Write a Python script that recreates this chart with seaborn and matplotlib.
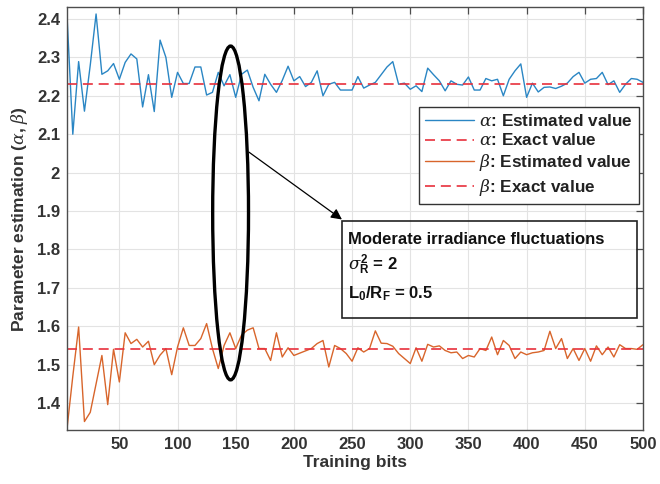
import matplotlib
matplotlib.use("Agg")
import matplotlib.pyplot as plt
import numpy as np
import pandas as pd
import seaborn as sns
from matplotlib.patches import Ellipse, Rectangle
from matplotlib.ticker import FuncFormatter

# Training-bit index of every estimate
training_bits = list(range(5, 505, 5))

# Estimated alpha after each block of training bits
alpha_estimated = [
    2.410, 2.100, 2.289, 2.160, 2.280, 2.413, 2.256, 2.265, 2.284, 2.243,
    2.287, 2.309, 2.296, 2.171, 2.255, 2.159, 2.345, 2.300, 2.196, 2.261,
    2.232, 2.232, 2.275, 2.275, 2.202, 2.209, 2.261, 2.226, 2.255, 2.196,
    2.256, 2.267, 2.222, 2.187, 2.256, 2.230, 2.209, 2.240, 2.277, 2.239,
    2.250, 2.224, 2.235, 2.265, 2.200, 2.230, 2.235, 2.215, 2.215, 2.215,
    2.250, 2.220, 2.228, 2.235, 2.255, 2.275, 2.289, 2.230, 2.233, 2.217,
    2.226, 2.211, 2.272, 2.255, 2.239, 2.213, 2.239, 2.230, 2.228, 2.249,
    2.215, 2.215, 2.245, 2.239, 2.243, 2.200, 2.243, 2.265, 2.283, 2.196,
    2.233, 2.210, 2.222, 2.223, 2.219, 2.225, 2.233, 2.250, 2.261, 2.233,
    2.243, 2.245, 2.261, 2.229, 2.239, 2.209, 2.230, 2.245, 2.243, 2.235,
]

# Estimated beta after each block of training bits
beta_estimated = [
    1.333, 1.470, 1.598, 1.352, 1.376, 1.450, 1.524, 1.396, 1.540, 1.455,
    1.583, 1.555, 1.566, 1.546, 1.561, 1.500, 1.525, 1.542, 1.474, 1.546,
    1.596, 1.550, 1.550, 1.568, 1.607, 1.542, 1.490, 1.550, 1.583, 1.542,
    1.577, 1.590, 1.596, 1.542, 1.542, 1.511, 1.583, 1.520, 1.544, 1.524,
    1.530, 1.536, 1.542, 1.555, 1.563, 1.494, 1.550, 1.542, 1.529, 1.509,
    1.544, 1.533, 1.542, 1.588, 1.556, 1.555, 1.548, 1.529, 1.516, 1.503,
    1.544, 1.509, 1.553, 1.546, 1.549, 1.537, 1.531, 1.533, 1.516, 1.524,
    1.520, 1.542, 1.537, 1.572, 1.526, 1.563, 1.550, 1.516, 1.533, 1.526,
    1.531, 1.533, 1.537, 1.587, 1.542, 1.568, 1.516, 1.542, 1.511, 1.542,
    1.509, 1.549, 1.526, 1.546, 1.520, 1.552, 1.542, 1.542, 1.540, 1.552,
]

alpha_exact = 2.23
beta_exact = 1.54

x_ticks = [50, 100, 150, 200, 250, 300, 350, 400, 450, 500]
y_ticks = [1.4, 1.5, 1.6, 1.7, 1.8, 1.9, 2.0, 2.1, 2.2, 2.3, 2.4]

legend_labels = [
    r"$\alpha$: Estimated value",
    r"$\alpha$: Exact value",
    r"$\beta$: Estimated value",
    r"$\beta$: Exact value",
]
note_lines = [
    "Moderate irradiance fluctuations",
    r"$\sigma^{\mathbf{2}}_{\mathbf{R}}$ = 2",
    r"L$_{\mathbf{0}}$/R$_{\mathbf{F}}$ = 0.5",
]

sns.set_theme(style="whitegrid")
plt.rcParams.update({
    "font.family": ["Liberation Sans", "DejaVu Sans"],
    "mathtext.fontset": "custom",
    "mathtext.rm": "Liberation Sans",
    "mathtext.bf": "Liberation Sans:bold",
    "mathtext.it": "DejaVu Serif:italic",
    "mathtext.fallback": "cm",
    "axes.edgecolor": "#4d4d4d",
    "axes.linewidth": 1.0,
    "grid.color": "#e3e3e3",
    "grid.linewidth": 0.8,
})

df = pd.DataFrame({
    "bits": training_bits,
    "alpha_est": alpha_estimated,
    "alpha_ex": [alpha_exact] * len(training_bits),
    "beta_est": beta_estimated,
    "beta_ex": [beta_exact] * len(training_bits),
})

blue = "#2a86c4"
orange = "#d8652b"
red = "#e8303c"
dash = (0, (6, 3.5))

fig = plt.figure(figsize=(6.6, 4.84), dpi=100)
ax = fig.add_axes([0.1015, 0.1116, 0.8727, 0.873])

sns.lineplot(data=df, x="bits", y="alpha_est", ax=ax, color=blue, lw=1.0,
             label=legend_labels[0])
sns.lineplot(data=df, x="bits", y="alpha_ex", ax=ax, color=red, lw=1.2,
             linestyle=dash, label=legend_labels[1])
sns.lineplot(data=df, x="bits", y="beta_est", ax=ax, color=orange, lw=1.0,
             label=legend_labels[2])
sns.lineplot(data=df, x="bits", y="beta_ex", ax=ax, color=red, lw=1.2,
             linestyle=dash, label=legend_labels[3])

ax.set_xlim(5, 500)
ax.set_ylim(1.33, 2.43)
ax.set_xticks(x_ticks)
ax.set_yticks(y_ticks)
ax.yaxis.set_major_formatter(FuncFormatter(lambda v, p: f"{v:g}"))
ax.tick_params(axis="both", which="major", direction="in", length=5,
               width=0.9, color="#4d4d4d", labelsize=12, labelcolor="#333333",
               top=True, right=True, pad=5)
for lab in ax.get_xticklabels() + ax.get_yticklabels():
    lab.set_fontweight("bold")
for s in ax.spines.values():
    s.set_visible(True)
    s.set_color("#4d4d4d")

ax.set_xlabel("Training bits", fontsize=12.5, fontweight="bold",
              color="#333333", labelpad=2)
ax.set_ylabel(r"Parameter estimation ($\alpha$, $\beta$)", fontsize=12.5,
              fontweight="bold", color="#333333", labelpad=5)

leg = ax.legend(loc="upper right", bbox_to_anchor=(0.993, 0.765),
                frameon=True, fancybox=False, framealpha=1,
                edgecolor="#333333", fontsize=12.3, handlelength=2.9,
                labelspacing=0.22, borderpad=0.35, handletextpad=0.3,
                borderaxespad=0)
leg.get_frame().set_linewidth(1.0)
for t in leg.get_texts():
    t.set_fontweight("bold")
    t.set_color("#222222")
leg.set_zorder(6)

# Highlight around the transient region and its call-out
ax.add_patch(Ellipse((145.6, 1.895), width=30.8, height=0.869,
                     fill=False, edgecolor="black", lw=2.4, zorder=5))
ax.annotate("", xy=(241.3, 1.878), xytext=(161.3, 2.0535),
            arrowprops=dict(arrowstyle="-|>", color="black", lw=0.9,
                            mutation_scale=16, shrinkA=0, shrinkB=0),
            zorder=5)
ax.add_patch(Rectangle((241.3, 1.621), 495 - 241.3, 1.873 - 1.621,
                       fill=False, edgecolor="#222222", lw=1.2, zorder=5))
note_y = [1.826, 1.760, 1.686]
for txt, yv in zip(note_lines, note_y):
    ax.text(246.5, yv, txt, fontsize=12, fontweight="bold", color="#111111",
            va="center", ha="left", zorder=6)

fig.savefig("out.png", dpi=100)
